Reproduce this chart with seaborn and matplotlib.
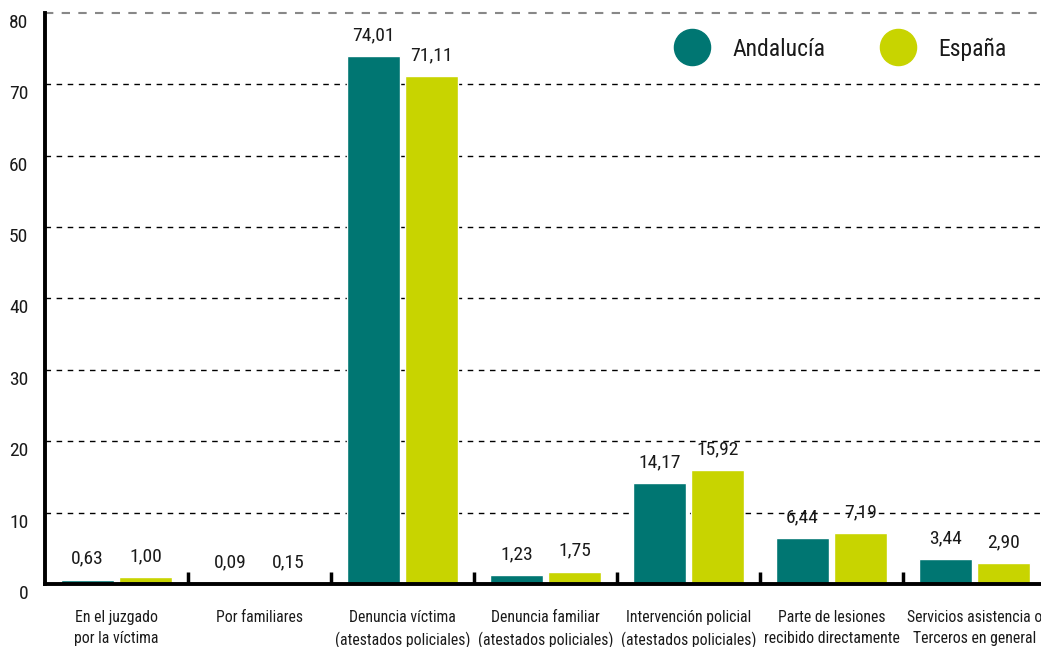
import pandas as pd
import numpy as np
import matplotlib.pyplot as plt
import matplotlib.transforms as mtransforms
import seaborn as sns

categorias = ['En el juzgado\npor la víctima',
              'Por familiares',
              'Denuncia víctima\n(atestados policiales)',
              'Denuncia familiar\n(atestados policiales)',
              'Intervención policial\n(atestados policiales)',
              'Parte de lesiones\nrecibido directamente',
              'Servicios asistencia o\nTerceros en general']
andalucia = [0.63, 0.09, 74.01, 1.23, 14.17, 6.44, 3.44]
espana = [1.00, 0.15, 71.11, 1.75, 15.92, 7.19, 2.90]
series = ['Andalucía', 'España']
colores = ['#007672', '#c8d400']

df = pd.DataFrame({'categoria': categorias * 2,
                   'valor': andalucia + espana,
                   'serie': [series[0]] * len(categorias) + [series[1]] * len(categorias)})

sns.set_theme(style='white')
plt.rcParams['font.family'] = ['Roboto Condensed', 'Barlow Semi Condensed', 'DejaVu Sans']

fig = plt.figure(figsize=[10.41, 6.47], dpi=100)
ax = fig.add_axes([45/1041, 63/647, 1001/1041, 571/647])

sns.barplot(data=df, x='categoria', y='valor', hue='serie', palette=colores,
            width=0.81, gap=0.1, ax=ax, legend=False, saturation=1, errorbar=None)

for cont in ax.containers:
    ax.bar_label(cont, labels=[f'{b.get_height():.2f}'.replace('.', ',') for b in cont],
                 padding=8.5, fontsize=14, color='#1a1a1a')

ax.set_xlim(-0.5, 6.5)
ax.set_ylim(0, 80)
ax.set_yticks(range(0, 90, 10))
ax.set_xlabel('')
ax.set_ylabel('')

# gridlines
for v in range(10, 80, 10):
    ax.axhline(v, color='black', ls=(0, (4, 4)), lw=1, zorder=0)
ax.axhline(80, color='#888888', ls=(0, (4, 4)), lw=1.5, zorder=0, clip_on=False)

for s in ['top', 'right']:
    ax.spines[s].set_visible(False)
for s in ['left', 'bottom']:
    ax.spines[s].set_linewidth(2.8)
    ax.spines[s].set_color('black')

# category labels at centres, separator ticks at boundaries
ax.set_xticks(np.arange(0.5, 6.5, 1.0))
ax.set_xticklabels([])
ax.set_xticks(range(len(categorias)), minor=True)
ax.set_xticklabels(categorias, minor=True, fontsize=11.3, color='#1a1a1a', linespacing=1.45)
ax.tick_params(axis='x', which='major', direction='in', length=9, width=2.5, color='black', bottom=True)
ax.tick_params(axis='x', which='minor', length=0, pad=19)
ax.tick_params(axis='y', length=0, pad=12, labelsize=14, labelcolor='#1a1a1a')

off = mtransforms.ScaledTranslation(0, -0.08, fig.dpi_scale_trans)
for lab in ax.get_yticklabels():
    lab.set_transform(lab.get_transform() + off)

handles = [plt.Line2D([], [], marker='o', ls='', markersize=26, color=c) for c in colores]
ax.legend(handles, series, ncol=2, frameon=False, fontsize=17, loc='center left',
          bbox_to_anchor=(659/1041, 1 - 49/647), bbox_transform=fig.transFigure,
          borderaxespad=0, handlelength=2, handletextpad=0.7, columnspacing=2.1,
          labelcolor='#1a1a1a')

fig.savefig('out.png', dpi=100)
